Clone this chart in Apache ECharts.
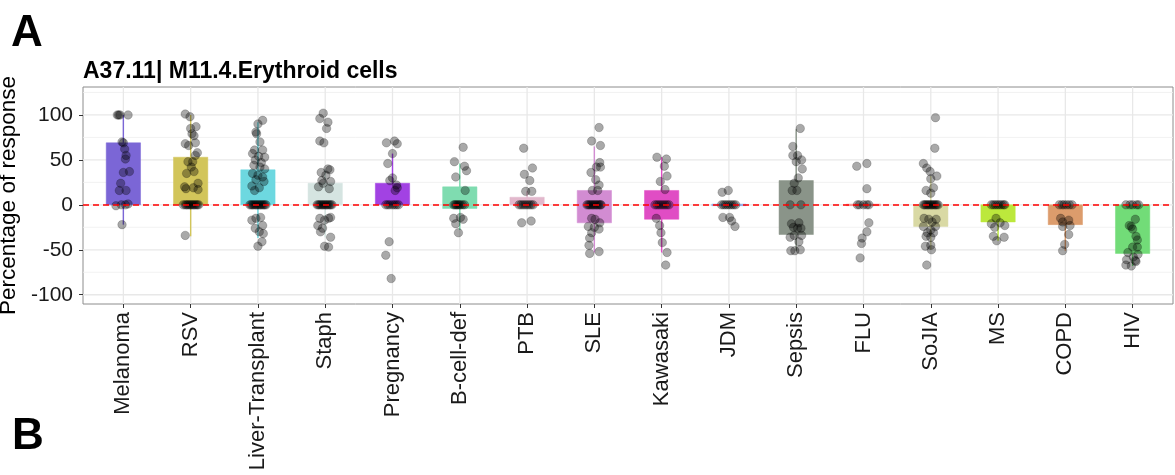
<!DOCTYPE html>
<html>
<head>
<meta charset="utf-8">
<title>A37.11 M11.4 Erythroid cells</title>
<script src="https://cdn.jsdelivr.net/npm/echarts@6/dist/echarts.min.js"></script>
<style>
  html, body { margin: 0; padding: 0; background: #fff; }
  #chart { width: 1175px; height: 475px; }
</style>
</head>
<body>
<div id="chart"></div>
<script>
const categories = ["Melanoma", "RSV", "Liver-Transplant", "Staph", "Pregnancy", "B-cell-def", "PTB", "SLE",
  "Kawasaki", "JDM", "Sepsis", "FLU", "SoJIA", "MS", "COPD", "HIV"];
const boxColors = ["#7b66d6", "#d2c55a", "#6dd8e0", "#d5e4e1", "#a242e3", "#7fdcb0", "#e2b8cc", "#d28cd2",
  "#e04dc4", "#8aa7e6", "#8a9489", "#f08a8a", "#d9d9a4", "#bce83c", "#dc9c6c", "#72dc78"];
// box = lower / upper quartile, whisker = low / high end
const q1 = [0, 0, 0, 0, 0, -4, 0, -20, -16, -0.8, -33, -0.8, -24, -19, -22, -54];
const q3 = [69, 53, 39, 24, 24, 20, 8.5, 16, 16, 0.8, 27, 0.8, 0, 0, 0, 0];
const whiskerLow = [-22, -35, -37, -36, 0, -28, 0, -53, -53, 0, -51, 0, -50, -40, -51, -68];
const whiskerHigh = [100, 100, 92, 40, 57, 46, 15, 65, 53, 0, 84, 0, 32, 0, 0, 0];

const yTicks = [-100, -50, 0, 50, 100];
const yMinor = [-75, -25, 25, 75, 125];

// jittered samples: [offset from category centre, value]
const ptsMelanoma = [[-0.09, 100], [-0.07, 100], [-0.05, 100], [0.07, 100], [-0.02, 70], [0, 69], [0.02, 62],
  [0.04, 55], [0.03, 51], [0, 36], [0.09, 37], [-0.04, 24], [-0.06, 16], [0.04, 16], [-0.11, -1], [-0.03, 0],
  [0.03, 0], [0.07, 1], [-0.02, -22]];
const ptsRSV = [[-0.08, 101], [-0.01, 98], [0.08, 87], [0, 85], [0.02, 79], [0.05, 77], [-0.08, 68], [0.07, 69],
  [-0.03, 66], [0.1, 58], [0.07, 55], [-0.04, 48], [0.03, 48], [0.01, 42], [0.05, 37], [-0.06, 35], [0.11, 24],
  [-0.09, 20], [0.04, 19], [0.11, 17], [-0.07, 18], [-0.08, -34],
  [-0.11, 0], [-0.08, 0], [-0.06, 0], [-0.04, 0], [-0.02, 0], [0, 0], [0.02, 0], [0.04, 0], [0.06, 0], [0.08, 0],
  [0.1, 0], [0.12, 0]];
const ptsLiver = [[0.07, 94], [0, 90], [-0.03, 81], [-0.02, 79], [0.03, 70], [-0.05, 61], [0.07, 61], [-0.08, 57],
  [0.01, 54], [0.1, 53], [-0.04, 50], [0.05, 47], [-0.06, 44], [0.03, 42], [0.1, 40], [-0.08, 35], [0, 33],
  [0.07, 31], [-0.03, 28], [0.09, 26], [-0.09, 21], [0.02, 19], [-0.05, 16], [-0.03, -15], [0.04, -14],
  [-0.09, -17], [0.07, -23], [-0.04, -26], [0.02, -30], [0.08, -32], [0.06, -41], [0, -46],
  [-0.12, 0], [-0.1, 0], [-0.08, 0], [-0.06, 0], [-0.04, 0], [-0.02, 0], [0, 0], [0.02, 0], [0.04, 0], [0.06, 0],
  [0.08, 0], [0.1, 0], [0.12, 0]];
const ptsStaph = [[-0.03, 102], [-0.08, 96], [0.04, 92], [0.02, 85], [-0.08, 71], [-0.02, 69], [0.04, 40],
  [0.07, 39], [-0.06, 36], [0.01, 33], [-0.05, 27], [0.08, 26], [-0.1, 20], [0.06, 18], [-0.03, 24],
  [-0.08, -15], [-0.01, -17], [0.05, -15], [0.08, -14], [-0.11, -23], [-0.04, -26], [-0.07, -30], [0.08, -36],
  [-0.01, -46], [0.05, -47],
  [-0.12, 0], [-0.1, 0], [-0.08, 0], [-0.06, 0], [-0.04, 0], [-0.02, 0], [0, 0], [0.02, 0], [0.04, 0], [0.06, 0],
  [0.08, 0], [0.1, 0]];
const ptsPregnancy = [[-0.09, 69], [0.03, 71], [0.07, 68], [0, 57], [-0.07, 46], [0, 30], [-0.04, 27], [0.06, 22],
  [0.07, 19], [0.04, 16], [-0.05, -41], [-0.1, -56], [-0.02, -82],
  [-0.1, 0], [-0.07, 0], [-0.04, 0], [0, 0], [0.03, 0], [0.06, 0], [0.09, 0]];
const ptsBcell = [[0.05, 64], [-0.08, 48], [0.07, 43], [0.1, 38], [-0.06, 31], [0.08, 16], [-0.09, -15],
  [0.01, -14], [0.05, -16], [-0.06, -21], [-0.02, -31],
  [-0.09, 0], [-0.07, 0], [-0.05, 0], [-0.03, 0], [-0.01, 0], [0.01, 0], [0.04, 0], [0.07, 0]];
const ptsPTB = [[-0.05, 63], [0.08, 41], [-0.04, 34], [0.04, 27], [-0.02, 15], [0.07, 15], [-0.08, -20],
  [0.06, -18],
  [-0.12, 0], [-0.09, 0], [-0.06, 0], [-0.03, 0], [0, 0], [0.03, 0], [0.06, 0], [0.09, 0]];
const ptsSLE = [[0.07, 86], [-0.04, 71], [0.09, 66], [0.08, 47], [0.03, 42], [0.09, 42], [-0.05, 36], [0.02, 28],
  [0.07, 22], [-0.03, 16], [0.05, 16], [-0.04, -15], [0.01, -16], [0.08, -20], [-0.09, -24], [0, -25],
  [0.07, -27], [-0.04, -31], [-0.07, -37], [-0.08, -45], [-0.07, -54], [0.07, -52],
  [-0.11, 0], [-0.09, 0], [-0.07, 0], [-0.05, 0], [-0.03, 0], [-0.01, 0], [0.01, 0], [0.03, 0], [0.05, 0],
  [0.07, 0], [0.09, 0], [0.1, 0]];
const ptsKawasaki = [[-0.07, 53], [0.07, 51], [0.04, 43], [0.08, 32], [-0.02, 26], [0.05, 17], [-0.08, -15],
  [-0.03, -23], [-0.01, -31], [0.01, -42], [0.08, -53], [0.06, -67],
  [-0.1, 0], [-0.07, 0], [-0.04, 0], [-0.01, 0], [0.02, 0], [0.05, 0], [0.08, 0], [0.11, 0]];
const ptsJDM = [[-0.1, 14], [-0.01, 16], [-0.09, -14], [0.01, -14], [0.04, -18], [0.09, -24],
  [-0.11, 0], [-0.08, 0], [-0.05, 0], [-0.02, 0], [0.01, 0], [0.04, 0], [0.07, 0], [0.1, 0]];
const ptsSepsis = [[0.06, 85], [-0.05, 65], [-0.05, 55], [0.02, 55], [0.08, 50], [0, 48], [0.09, 40], [0.03, 30],
  [-0.03, 24], [-0.06, 16], [0.01, 16], [-0.09, 0], [0.07, 0], [-0.07, -21], [0.04, -20], [-0.04, -25],
  [0.02, -26], [0.07, -26], [-0.09, -36], [-0.03, -34], [0.08, -34], [0.04, -41], [-0.08, -51], [-0.02, -51],
  [0.06, -50]];
const ptsFLU = [[-0.1, 43], [0.05, 46], [0.05, 18], [0.08, -20], [0.05, -30], [-0.02, -37], [-0.03, -43],
  [-0.05, -59],
  [-0.09, 0], [-0.06, 0], [0, 0], [0.05, 0], [0.08, 0]];
const ptsSoJIA = [[0.07, 97], [0.06, 63], [-0.11, 46], [-0.06, 41], [-0.01, 37], [0.09, 32], [0, 29], [0.04, 19],
  [-0.07, 16], [0, 13], [-0.1, -15], [-0.03, -16], [0.08, -16], [0.02, -19], [-0.11, -24], [0.07, -24],
  [0, -28], [-0.05, -31], [0.04, -31], [-0.07, -35], [0, -36], [-0.08, -46], [0, -45], [0.01, -50],
  [-0.06, -67],
  [-0.11, 0], [-0.09, 0], [-0.07, 0], [-0.05, 0], [-0.03, 0], [-0.01, 0], [0.01, 0], [0.03, 0], [0.05, 0],
  [0.07, 0], [0.09, 0], [0.11, 0]];
const ptsMS = [[-0.03, -15], [-0.1, -21], [0.03, -20], [0.1, -23], [-0.05, -25], [-0.07, -35], [0.09, -36],
  [-0.02, -40],
  [-0.1, 0], [-0.07, 0], [-0.04, 0], [-0.01, 0], [0.02, 0], [0.05, 0], [0.08, 0], [0.1, 0]];
const ptsCOPD = [[-0.07, -15], [0.05, -17], [-0.04, -19], [0.07, -23], [-0.04, -24], [0.05, -33], [-0.01, -44],
  [-0.04, -51],
  [-0.09, 0], [-0.05, 0], [-0.02, 0], [0.02, 0], [0.06, 0], [0.1, 0]];
const ptsHIV = [[0.04, -16], [-0.05, -23], [-0.02, -24], [0, -27], [0.05, -35], [0.07, -39], [0, -47], [0.07, -47],
  [-0.07, -53], [0.08, -55], [0.01, -58], [-0.09, -61], [0.04, -62], [-0.1, -67], [-0.02, -68], [0.05, -63],
  [-0.1, 0], [-0.04, 0], [0, 0], [0.06, 0], [0.09, 0]];

const allPoints = [ptsMelanoma, ptsRSV, ptsLiver, ptsStaph, ptsPregnancy, ptsBcell, ptsPTB, ptsSLE,
  ptsKawasaki, ptsJDM, ptsSepsis, ptsFLU, ptsSoJIA, ptsMS, ptsCOPD, ptsHIV];

const FONT = "Liberation Sans";
const X_MIN = -0.6;
const X_MAX = 15.6;
const Y_MIN = -110.3;
const Y_MAX = 131.1;

const pointData = [];
allPoints.forEach((pts, i) => {
  pts.forEach(([dx, v]) => pointData.push([i + dx, v]));
});
const boxData = categories.map((c, i) => [i, q1[i], q3[i], whiskerLow[i], whiskerHigh[i]]);
// [value, is major] for horizontal grid lines
const hGridData = [...yMinor.map((v) => [v, 0]), ...yTicks.map((v) => [v, 1])];
const vGridData = categories.map((c, i) => [i]);

const chart = echarts.init(document.getElementById("chart"));

const option = {
  animation: false,
  backgroundColor: "#fff",
  title: {
    text: "A37.11| M11.4.Erythroid cells",
    left: 78,
    top: 55,
    textStyle: { fontFamily: FONT, fontSize: 23, fontWeight: "bold", color: "#000" },
  },
  graphic: [
    { type: "text", left: 11, top: 12, style: { text: "A", font: "bold 44px 'Liberation Sans'", fill: "#000" } },
    { type: "text", left: 12, top: 415, style: { text: "B", font: "bold 44px 'Liberation Sans'", fill: "#000" } },
  ],
  grid: {
    left: 83,
    top: 87,
    width: 1090,
    height: 217,
    show: true,
    borderColor: "#8c8c8c",
    borderWidth: 1,
    outerBoundsMode: "none",
  },
  xAxis: {
    type: "value",
    min: X_MIN,
    max: X_MAX,
    axisLine: { show: false, onZero: false },
    splitLine: { show: false },
    axisTick: {
      show: true,
      customValues: categories.map((c, i) => i),
      length: 4,
      lineStyle: { color: "#333" },
    },
    axisLabel: {
      customValues: categories.map((c, i) => i),
      formatter: (v) => categories[Math.round(v)],
      rotate: 90,
      margin: 8,
      fontFamily: FONT,
      fontSize: 22,
      color: "#1a1a1a",
    },
  },
  yAxis: {
    type: "value",
    min: Y_MIN,
    max: Y_MAX,
    name: "Percentage of response",
    nameLocation: "middle",
    nameGap: 55,
    nameTextStyle: { fontFamily: FONT, fontSize: 22.5, color: "#000" },
    axisLine: { show: false, onZero: false },
    splitLine: { show: false },
    axisTick: { show: true, customValues: yTicks, length: 4, lineStyle: { color: "#333" } },
    axisLabel: { customValues: yTicks, margin: 10, fontFamily: FONT, fontSize: 21, color: "#1a1a1a" },
  },
  series: [
    {
      // horizontal panel grid
      type: "custom",
      z: 0,
      silent: true,
      data: hGridData,
      renderItem: (params, api) => {
        const p1 = api.coord([X_MIN, api.value(0)]);
        const p2 = api.coord([X_MAX, api.value(0)]);
        const major = api.value(1) === 1;
        return {
          type: "line",
          shape: { x1: p1[0], y1: p1[1], x2: p2[0], y2: p2[1] },
          style: { stroke: major ? "#e8e8e8" : "#efefef", lineWidth: major ? 1.3 : 0.8 },
        };
      },
    },
    {
      // vertical panel grid
      type: "custom",
      z: 0,
      silent: true,
      data: vGridData,
      renderItem: (params, api) => {
        const p1 = api.coord([api.value(0), Y_MIN]);
        const p2 = api.coord([api.value(0), Y_MAX]);
        return {
          type: "line",
          shape: { x1: p1[0], y1: p1[1], x2: p2[0], y2: p2[1] },
          style: { stroke: "#e8e8e8", lineWidth: 1.3 },
        };
      },
    },
    {
      type: "custom",
      z: 2,
      silent: true,
      data: boxData,
      renderItem: (params, api) => {
        const i = api.value(0);
        const color = boxColors[i];
        const w = api.size([0.51, 0])[0];
        const lo = api.coord([i, api.value(3)]);
        const hi = api.coord([i, api.value(4)]);
        const a = api.coord([i, api.value(1)]);
        const b = api.coord([i, api.value(2)]);
        return {
          type: "group",
          children: [
            {
              type: "line",
              shape: { x1: lo[0], y1: lo[1], x2: hi[0], y2: hi[1] },
              style: { stroke: color, lineWidth: 1.4 },
            },
            {
              type: "rect",
              shape: { x: a[0] - w / 2, y: b[1], width: w, height: Math.max(a[1] - b[1], 1.5) },
              style: { fill: color, stroke: color, lineWidth: 0.5 },
            },
          ],
        };
      },
    },
    {
      type: "scatter",
      z: 3,
      silent: true,
      data: pointData,
      symbolSize: 8.5,
      itemStyle: { color: "rgba(0,0,0,0.42)", borderColor: "rgba(0,0,0,0.35)", borderWidth: 0.7 },
    },
    {
      // dashed zero reference
      type: "line",
      data: [],
      z: 4,
      silent: true,
      markLine: {
        z: 10,
        silent: true,
        symbol: "none",
        label: { show: false },
        lineStyle: { color: "#ff0000", type: [6, 4], width: 1.5 },
        data: [{ yAxis: 0 }],
      },
    },
  ],
};

chart.setOption(option);
</script>
</body>
</html>
